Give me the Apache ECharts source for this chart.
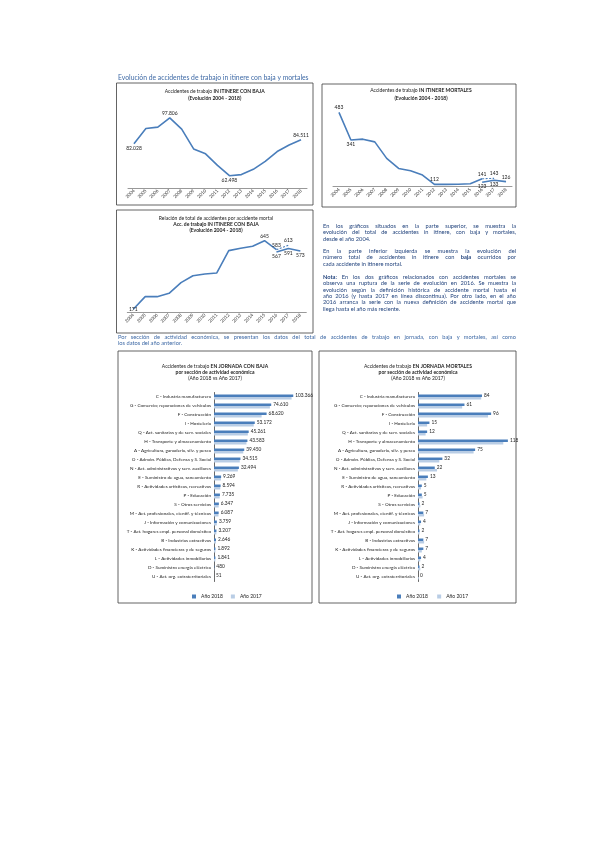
<!DOCTYPE html>
<html><head><meta charset="utf-8">
<script src="https://cdn.jsdelivr.net/npm/echarts@6/dist/echarts.min.js"></script>
<style>
html,body{margin:0;padding:0;background:#fff;}
#chart{position:absolute;left:0;top:0;width:600px;height:848px;}
.ln{position:absolute;font-family:Lato,'Open Sans',sans-serif;font-size:5.7px;line-height:6px;color:#24457e;white-space:nowrap;}
.j{text-align:justify;text-align-last:justify;white-space:normal;}
b{font-weight:700;}
</style></head><body>
<div id="chart"></div>
<div id="txt"></div>
<script>
// ---------- DATA ----------
const years = ['2004','2005','2006','2007','2008','2009','2010','2011','2012','2013','2014','2015','2016','2017','2018'];
const itinereBaja = [82028, 91340, 92150, 97806, 90940, 78880, 75870, 68830, 62498, 63190, 66420, 71230, 77280, 81300, 84511];
const mortalesHist = [483, 341, 345, 331, 246, 194, 182, 160, 112, 112, 113, 115, 141, null, null];
const mortalesHistDash = [null, null, null, null, null, null, null, null, null, null, null, null, 141, 143, null];
const mortalesNew = [null, null, null, null, null, null, null, null, null, null, null, null, 123, 133, 126];
const ratioHist = [171, 258, 258, 281, 355, 403, 415, 422, 576, 592, 606, 645, 583, null, null];
const ratioHistDash = [null, null, null, null, null, null, null, null, null, null, null, null, 583, 613, null];
const ratioNew = [null, null, null, null, null, null, null, null, null, null, null, null, 567, 591, 573];

const sectors = ['C - Industria manufacturera','G - Comercio; reparaciones de vehículos','F - Construcción','I - Hostelería','Q - Act. sanitarias y de serv. sociales','H - Transporte y almacenamiento','A - Agricultura, ganadería, silv. y pesca','O - Admón. Pública, Defensa y S. Social','N - Act. administrativas y serv. auxiliares','E - Suministro de agua, saneamiento','R - Actividades artísticas, recreativas','P - Educación','S - Otros servicios','M - Act. profesionales, cientif. y técnicas','J - Información y comunicaciones','T - Act. hogares empl. personal doméstico','B - Industrias extractivas','K - Actividades financieras y de seguros','L - Actividades inmobiliarias','D - Suministro energía eléctrica','U - Act. org. extraterritoriales'];
const bajaJornada2018 = [103366, 74610, 68620, 53172, 45261, 43583, 39450, 34515, 32494, 9269, 8594, 7735, 6347, 6087, 3759, 3207, 2646, 1892, 1841, 480, 51];
const bajaJornada2017 = [101200, 72900, 62100, 51800, 44100, 42300, 38200, 33600, 31100, 9050, 8200, 7400, 6100, 5850, 3600, 3050, 2550, 1820, 1760, 470, 48];
const mortJornada2018 = [84, 61, 96, 15, 12, 118, 75, 32, 22, 13, 5, 5, 2, 7, 4, 2, 7, 7, 4, 2, 0];
const mortJornada2017 = [83, 58, 92, 12, 10, 112, 73, 28, 25, 11, 4, 6, 3, 8, 3, 2, 8, 5, 3, 3, 1];

// ---------- HELPERS ----------
const BLUE = '#4A7EBB', LIGHT = '#B9CDE5', FONT = 'Lato, "Open Sans", sans-serif';
const fmt = v => String(v).replace(/\B(?=(\d{3})+(?!\d))/g, '.');
function labelled(arr, pos) {
  return arr.map((v, i) => pos[i] && v != null ? {value: v, label: {show: true, position: pos[i]}} : v);
}
const lineLabel = {fontSize: 5, color: '#222', fontFamily: FONT, distance: 2, formatter: p => fmt(p.value)};
function lineSeries(idx, data, dashed) {
  return {type: 'line', xAxisIndex: idx, yAxisIndex: idx, data: data, symbol: 'circle', symbolSize: 0.1,
    connectNulls: false, lineStyle: {color: BLUE, width: dashed ? 1.1 : 1.6, type: dashed ? [2, 1.5] : 'solid'},
    itemStyle: {color: BLUE}, label: Object.assign({show: false}, lineLabel), emphasis: {disabled: true}, z: 3};
}
const xCat = idx => ({type: 'category', gridIndex: idx, data: years, boundaryGap: true,
  axisLine: {lineStyle: {color: '#7f7f7f', width: 0.8}}, axisTick: {show: false},
  axisLabel: {rotate: 45, fontSize: 4.6, color: '#333', interval: 0, margin: 2, fontFamily: FONT}});
const yVal = (idx, mn, mx) => ({type: 'value', gridIndex: idx, min: mn, max: mx, show: false});

function title(x, y, parts) {
  return {type: 'text', x: x, y: y, z: 10, style: {text: parts, align: 'center', verticalAlign: 'middle', fontFamily: FONT,
    rich: {n: {fontSize: 5, fontFamily: FONT, fill: '#222'}, b: {fontSize: 5, fontFamily: FONT, fontWeight: 'bold', fill: '#222'}}}};
}
function box(x, y, w, h) {
  return {type: 'rect', shape: {x: x, y: y, width: w, height: h}, style: {fill: null, stroke: '#3c3c3c', lineWidth: 0.8}, z: 1};
}

const chart = echarts.init(document.getElementById('chart'), null, {renderer: 'canvas'});
const catAxisBar = idx => ({type: 'category', gridIndex: idx, data: sectors, inverse: true,
  axisLine: {lineStyle: {color: '#444', width: 0.8}}, axisTick: {show: false},
  axisLabel: {fontSize: 4.6, color: '#222', margin: 3, fontFamily: FONT, interval: 0}});
const barLabel = {show: true, position: 'right', fontSize: 4.8, color: '#222', distance: 2, fontFamily: FONT, formatter: p => fmt(p.value)};

chart.setOption({
  animation: false,
  grid: [
    {left: 128, top: 114.3, width: 179, height: 73.7},
    {left: 333, top: 109.1, width: 179, height: 77.6},
    {left: 127.3, top: 232.7, width: 179, height: 79.6},
    {left: 214, top: 392.5, width: 92, height: 189},
    {left: 418, top: 392.5, width: 91.4, height: 189}
  ],
  xAxis: [xCat(0), xCat(1), xCat(2),
    {type: 'value', gridIndex: 3, min: 0, max: 120000, show: false},
    {type: 'value', gridIndex: 4, min: 0, max: 120, show: false}],
  yAxis: [yVal(0, 55000, 100000), yVal(1, 100, 500), yVal(2, 150, 700), catAxisBar(3), catAxisBar(4)],
  legend: [
    {data: ['Año 2018', 'Año 2017'], left: 187, top: 589, itemWidth: 4, itemHeight: 4, itemGap: 8, icon: 'rect',
      textStyle: {fontSize: 5, color: '#222', fontFamily: FONT}, selectedMode: false},
    {data: ['Año 2018 ', 'Año 2017 '], left: 392, top: 589, itemWidth: 4, itemHeight: 4, itemGap: 8, icon: 'rect',
      textStyle: {fontSize: 5, color: '#222', fontFamily: FONT}, selectedMode: false}
  ],
  series: [
    lineSeries(0, labelled(itinereBaja, {0: 'bottom', 3: 'top', 8: 'bottom', 14: 'top'})),
    lineSeries(1, labelled(mortalesHist, {0: 'top', 1: 'bottom', 8: 'top', 12: 'top'})),
    lineSeries(1, labelled(mortalesHistDash, {13: 'top'}), true),
    lineSeries(1, labelled(mortalesNew, {12: 'bottom', 13: 'bottom', 14: 'top'})),
    lineSeries(2, labelled(ratioHist, {0: 'inside', 11: 'top', 12: 'top'})),
    lineSeries(2, labelled(ratioHistDash, {13: 'top'}), true),
    lineSeries(2, labelled(ratioNew, {12: 'bottom', 13: 'bottom', 14: 'bottom'})),
    {type: 'bar', name: 'Año 2018', xAxisIndex: 3, yAxisIndex: 3, data: bajaJornada2018, barGap: '0%', barCategoryGap: '45%',
      itemStyle: {color: BLUE}, label: barLabel},
    {type: 'bar', name: 'Año 2017', xAxisIndex: 3, yAxisIndex: 3, data: bajaJornada2017, itemStyle: {color: LIGHT}},
    {type: 'bar', name: 'Año 2018 ', xAxisIndex: 4, yAxisIndex: 4, data: mortJornada2018, barGap: '0%', barCategoryGap: '45%',
      itemStyle: {color: BLUE}, label: barLabel},
    {type: 'bar', name: 'Año 2017 ', xAxisIndex: 4, yAxisIndex: 4, data: mortJornada2017, itemStyle: {color: LIGHT}}
  ],
  color: [BLUE, LIGHT],
  graphic: [
    {type: 'text', x: 118, y: 78, style: {text: 'Evolución de accidentes de trabajo in itinere con baja y mortales', fontSize: 6.8, fontFamily: FONT, fill: '#3f6aa6', verticalAlign: 'middle'}},
    box(116.5, 83, 196.5, 122),
    box(322, 84, 194, 123),
    box(116.5, 210, 196.5, 123),
    box(118, 351, 194, 252),
    box(319, 351, 197, 252),
    title(214.7, 91, '{n|Accidentes de trabajo }{b|IN ITINERE CON BAJA}'),
    title(214.7, 98, '{b|(Evolución 2004 - 2018)}'),
    title(421, 90.5, '{n|Accidentes de trabajo }{b|IN ITINERE MORTALES}'),
    title(421, 98, '{b|(Evolución 2004 - 2018)}'),
    title(216, 218, '{n|Relación de total de accidentes por accidente mortal}'),
    title(216, 224, '{b|Acc. de trabajo IN ITINERE CON BAJA}'),
    title(216, 230, '{b|(Evolución 2004 - 2018)}'),
    title(215, 366, '{n|Accidentes de trabajo }{b|EN JORNADA CON BAJA}'),
    title(215, 372, '{b|por sección de actividad económica}'),
    title(215, 378, '{n|(Año 2018 vs Año 2017)}'),
    title(418, 366, '{n|Accidentes de trabajo }{b|EN JORNADA MORTALES}'),
    title(418, 372, '{b|por sección de actividad económica}'),
    title(418, 378, '{n|(Año 2018 vs Año 2017)}')
  ]
});

// ---------- PROSE ----------
const lines = [
  [323, 226, 193, 'En los gráficos situados en la parte superior, se muestra la', true],
  [323, 232.3, 193, 'evolución del total de accidentes in itinere, con baja y mortales,', true],
  [323, 238.6, 193, 'desde el año 2004.', false],
  [323, 251, 193, 'En la parte inferior izquierda se muestra la evolución del', true],
  [323, 257.3, 193, 'número total de accidentes in itinere con <b>baja</b> ocurridos por', true],
  [323, 263.6, 193, 'cada accidente in itinere mortal.', false],
  [323, 277, 193, '<b>Nota:</b> En los dos gráficos relacionados con accidentes mortales se', true],
  [323, 283.3, 193, 'observa una ruptura de la serie de evolución en 2016. Se muestra la', true],
  [323, 289.6, 193, 'evolución según la definición histórica de accidente mortal hasta el', true],
  [323, 295.9, 193, 'año 2016 (y hasta 2017 en línea discontinua). Por otro lado, en el año', true],
  [323, 302.2, 193, '2016 arranca la serie con la nueva definición de accidente mortal que', true],
  [323, 308.5, 193, 'llega hasta el año más reciente.', false],
  [118, 337, 398, 'Por sección de actividad económica, se presentan los datos del total de accidentes de trabajo en jornada, con baja y mortales, así como', true],
  [118, 343.3, 398, 'los datos del año anterior.', false]
];
const txt = document.getElementById('txt');
lines.forEach(l => {
  const d = document.createElement('div');
  d.className = 'ln' + (l[4] ? ' j' : '');
  d.style.left = l[0] + 'px'; d.style.top = (l[1] - 3) + 'px'; d.style.width = l[2] + 'px';
  if (l[1] > 330) { d.style.color = '#3f6aa6'; }
  d.innerHTML = l[3];
  txt.appendChild(d);
});
</script>
</body></html>
